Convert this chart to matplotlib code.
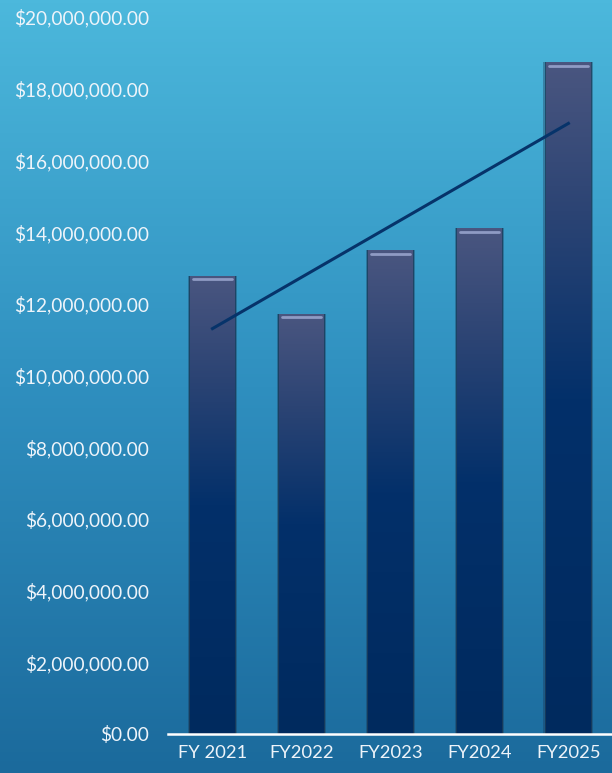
import numpy as np
import matplotlib
matplotlib.use("Agg")
import matplotlib.pyplot as plt
from matplotlib.colors import LinearSegmentedColormap
from matplotlib.ticker import FuncFormatter, MultipleLocator

categories = ["FY 2021", "FY2022", "FY2023", "FY2024", "FY2025"]
values = [12780000, 11720000, 13500000, 14110000, 18740000]
y_max = 20000000
y_step = 2000000

plt.rcParams['font.family'] = ['Lato', 'DejaVu Sans']

fig = plt.figure(figsize=(6.12, 7.73), dpi=100)

# background gradient
bg = fig.add_axes([0, 0, 1, 1], zorder=-10)
bg_cmap = LinearSegmentedColormap.from_list("bg", ["#1b6a9c", "#2f8fbf", "#4cb8dc"])
grad = np.linspace(0, 1, 256).reshape(-1, 1)
bg.imshow(grad, cmap=bg_cmap, aspect="auto", origin="lower", extent=[0, 1, 0, 1])
bg.set_axis_off()

ax = fig.add_axes([0.2745, 0.0505, 0.7255, 0.9275])
ax.patch.set_alpha(0)
x = np.arange(len(categories))
bars = ax.bar(x, values, width=0.5, color="none", edgecolor="none", zorder=2)

bar_cmap = LinearSegmentedColormap.from_list(
    "bar", [(0.0, "#002a5e"), (0.5, "#03306a"), (0.78, "#2c4474"), (1.0, "#4a5680")])
for b in bars:
    x0, w, h = b.get_x(), b.get_width(), b.get_height()
    # soft shadow
    ax.bar(x0 + w / 2, h, width=w * 1.12, color="#1a3050", alpha=0.35, zorder=1.4)
    ax.bar(x0 + w / 2, h, width=w * 1.05, color="#142640", alpha=0.6, zorder=1.5)
    im = ax.imshow(grad, cmap=bar_cmap, aspect="auto", origin="lower",
                   extent=[x0, x0 + w, 0, h], zorder=2)
    im.set_clip_path(b)
    # top highlight
    ax.plot([x0 + w * 0.06, x0 + w * 0.94], [h - y_max * 0.005] * 2,
            color="#8f9bc4", lw=2.0, solid_capstyle="round", zorder=3)

# linear trendline
coef = np.polyfit(x, values, 1)
ax.plot(x, np.polyval(coef, x), color="#06336a", lw=2.2, zorder=4)

ax.set_xlim(-0.5, 4.49)
ax.set_ylim(0, y_max)
ax.yaxis.set_major_locator(MultipleLocator(y_step))
ax.yaxis.set_major_formatter(FuncFormatter(lambda v, p: "${:,.2f}".format(v)))
ax.set_xticks(x)
ax.set_xticklabels(categories)
ax.tick_params(axis="both", length=0, colors="#eef4fa")
ax.tick_params(axis="y", pad=13.5, labelsize=13.7)
ax.tick_params(axis="x", pad=8, labelsize=13.2)
for s in ["top", "right", "left"]:
    ax.spines[s].set_visible(False)
ax.spines["bottom"].set_color("white")
ax.spines["bottom"].set_linewidth(1.8)
ax.spines["bottom"].set_zorder(5)

fig.savefig("out.png", dpi=100)
